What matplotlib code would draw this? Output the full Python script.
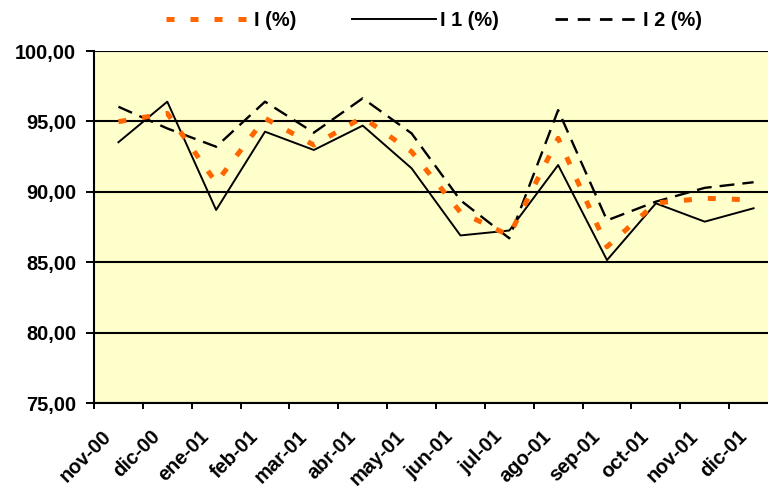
import matplotlib
matplotlib.use("Agg")
import matplotlib.pyplot as plt
from matplotlib.lines import Line2D
from matplotlib.ticker import FixedLocator, FuncFormatter
import matplotlib.transforms as mtransforms

months = ["nov-00", "dic-00", "ene-01", "feb-01", "mar-01", "abr-01", "may-01",
          "jun-01", "jul-01", "ago-01", "sep-01", "oct-01", "nov-01", "dic-01"]
serie_i = [94.98, 95.57, 90.65, 95.22, 93.32, 95.29, 92.85, 88.55, 86.9, 93.8, 86.1, 89.2, 89.54, 89.42]
serie_i1 = [93.52, 96.40, 88.71, 94.27, 92.97, 94.70, 91.67, 86.90, 87.25, 91.90, 85.15, 89.18, 87.88, 88.83]
serie_i2 = [96.04, 94.50, 93.20, 96.40, 94.20, 96.64, 94.15, 89.40, 86.70, 95.80, 87.97, 89.30, 90.28, 90.68]
labels = ["I (%)", "I 1 (%)", "I 2 (%)"]
yticks = [75, 80, 85, 90, 95, 100]

plt.rcParams['font.family'] = ['Liberation Sans', 'DejaVu Sans']
plt.rcParams['font.weight'] = 'bold'

W, H = 768, 486
fig = plt.figure(figsize=(W / 100, H / 100), dpi=100)
ax = fig.add_axes([94 / W, (H - 403) / H, 684 / W, 352 / H])
ax.set_facecolor("#FFFFCC")

x = list(range(len(months)))
orange = "#FF6600"
l_i, = ax.plot(x, serie_i, color=orange, lw=3.6, linestyle=(0, (1.6, 3.2)),
               dash_capstyle='butt', zorder=4)
l_i1, = ax.plot(x, serie_i1, color="black", lw=1.4, zorder=3)
l_i2, = ax.plot(x, serie_i2, color="black", lw=1.7, linestyle=(0, (6.3, 3.4)),
                dash_capstyle='butt', zorder=3)

ax.set_xlim(-0.5, len(months) - 0.5)
ax.set_ylim(75, 100)
ax.set_yticks(yticks)
ax.yaxis.set_major_formatter(FuncFormatter(lambda v, p: f"{v:.2f}".replace(".", ",")))
ax.tick_params(axis='y', direction='out', length=5.8, width=1.4, pad=7, labelsize=14.4)
ax.grid(axis='y', color='black', lw=1.5, zorder=1)
ax.set_axisbelow(True)

ax.set_xticks(x)
ax.set_xticklabels(months, rotation=45, ha='right', va='center',
                   rotation_mode='anchor', fontsize=14.4, fontweight='bold')
ax.xaxis.set_minor_locator(FixedLocator([i - 0.5 for i in range(len(months) + 1)]))
ax.tick_params(axis='x', which='major', length=0, pad=22)
ax.tick_params(axis='x', which='minor', direction='out', length=4.5, width=1.4)
offset = mtransforms.ScaledTranslation(-10 / 100, 0, fig.dpi_scale_trans)
for lab in ax.get_xticklabels():
    lab.set_transform(lab.get_transform() + offset)

for s in ['top', 'right']:
    ax.spines[s].set_visible(False)
for s in ['left', 'bottom']:
    ax.spines[s].set_linewidth(1.5)

handles = [
    Line2D([], [], color=orange, lw=3.6, linestyle=(0, (1.6, 3.2)), dash_capstyle='butt'),
    Line2D([], [], color="black", lw=1.4),
    Line2D([], [], color="black", lw=2.0, linestyle=(0, (4.5, 3.5)), dash_capstyle='butt'),
]
fig.legend(handles, labels, ncol=3, loc='center', bbox_to_anchor=(434 / W, 1 - 21 / H),
           frameon=False, fontsize=14.4, handlelength=4.2, handletextpad=0.2,
           columnspacing=2.8, borderpad=0)

fig.savefig("out.png", dpi=100)
